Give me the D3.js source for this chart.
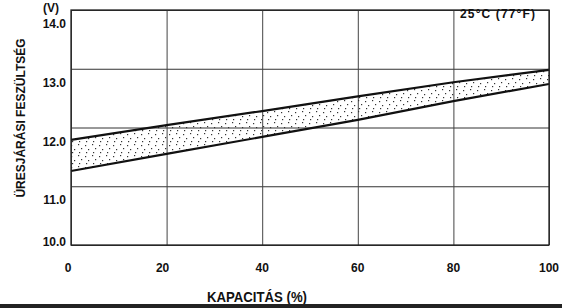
<!DOCTYPE html>
<html>
<head>
<meta charset="utf-8">
<script src="https://d3js.org/d3.v7.min.js"></script>
<style>
  body { margin: 0; background: #fff; }
  text { font-family: "Liberation Sans", Arial, sans-serif; font-weight: bold; fill: #111; }
</style>
</head>
<body>
<script>
// values
var capacity = [0, 20, 40, 60, 80, 100];
var upperVoltage = [11.79, 12.04, 12.28, 12.53, 12.77, 12.98];
var lowerVoltage = [11.26, 11.55, 11.84, 12.13, 12.45, 12.74];
var xTicks = [0, 20, 40, 60, 80, 100];
var yTicks = [10, 11, 12, 13, 14];

var W = 562, H = 308;
var m = { left: 71, right: 13, top: 10, bottom: 63 };

var svg = d3.select('body').append('svg')
  .attr('width', W)
  .attr('height', H);

var x = d3.scaleLinear().domain([0, 100]).range([m.left, W - m.right]);
var y = d3.scaleLinear().domain([10, 14]).range([H - m.bottom, m.top]);

// stipple pattern for the band
var pat = svg.append('defs').append('pattern')
  .attr('id', 'dots')
  .attr('patternUnits', 'userSpaceOnUse')
  .attr('width', 14).attr('height', 11);
[[1, 2], [8, 1], [4, 6], [11, 5], [2, 9], [9, 9]].forEach(function(p) {
  pat.append('rect').attr('x', p[0]).attr('y', p[1]).attr('width', 1.2).attr('height', 1.2).attr('fill', '#333');
});

// grid
svg.append('g')
  .attr('transform', 'translate(' + m.left + ',0)')
  .call(d3.axisLeft(y).tickValues(yTicks).tickSize(-(W - m.left - m.right)).tickFormat(''))
  .call(function(g) {
    g.select('.domain').remove();
    g.selectAll('line').attr('stroke', '#333').attr('stroke-width', 1);
  });

svg.append('g')
  .attr('transform', 'translate(0,' + m.top + ')')
  .call(d3.axisBottom(x).tickValues(xTicks).tickSize(H - m.top - m.bottom).tickFormat(''))
  .call(function(g) {
    g.select('.domain').remove();
    g.selectAll('line').attr('stroke', '#444').attr('stroke-width', 1);
  });

// band between the two lines
var band = capacity.map(function(c, i) { return { c: c, lo: lowerVoltage[i], hi: upperVoltage[i] }; });

svg.append('path')
  .datum(band)
  .attr('fill', 'url(#dots)')
  .attr('d', d3.area()
    .x(function(d) { return x(d.c); })
    .y0(function(d) { return y(d.lo); })
    .y1(function(d) { return y(d.hi); }));

[upperVoltage, lowerVoltage].forEach(function(vals) {
  svg.append('path')
    .datum(vals)
    .attr('fill', 'none')
    .attr('stroke', '#111')
    .attr('stroke-width', 2.2)
    .attr('d', d3.line()
      .x(function(d, i) { return x(capacity[i]); })
      .y(function(d) { return y(d); }));
});

// frame
svg.append('rect')
  .attr('x', x(0)).attr('y', y(14))
  .attr('width', x(100) - x(0)).attr('height', y(10) - y(14))
  .attr('fill', 'none').attr('stroke', '#222').attr('stroke-width', 1.3);

// y tick labels sit below their gridline, the bottom one at the corner
svg.selectAll('.ylab').data(yTicks).enter().append('text')
  .attr('class', 'ylab')
  .attr('x', 66)
  .attr('y', function(d) { return d === 10 ? y(d) + 1 : y(d) + 18; })
  .attr('text-anchor', 'end')
  .attr('font-size', 12)
  .text(function(d) { return d.toFixed(1); });

svg.selectAll('.xlab').data(xTicks).enter().append('text')
  .attr('class', 'xlab')
  .attr('x', function(d) { return d === 0 ? x(d) - 3 : (d === 20 ? x(d) - 4 : x(d)); })
  .attr('y', 272)
  .attr('text-anchor', 'middle')
  .attr('font-size', 12)
  .text(function(d) { return d; });

svg.append('text')
  .attr('x', 43).attr('y', 12)
  .attr('font-size', 12)
  .text('(V)');

svg.append('text')
  .attr('x', 460).attr('y', 18)
  .attr('font-size', 12)
  .attr('textLength', 75).attr('lengthAdjust', 'spacing')
  .text('25°C (77°F)');

svg.append('text')
  .attr('transform', 'translate(25,118) rotate(-90)')
  .attr('text-anchor', 'middle')
  .attr('font-size', 12)
  .text('ÜRESJÁRÁSI FESZÜLTSÉG');

svg.append('text')
  .attr('x', 207).attr('y', 302)
  .attr('font-size', 14)
  .attr('textLength', 100).attr('lengthAdjust', 'spacingAndGlyphs')
  .text('KAPACITÁS (%)');

// dark rule along the bottom edge
svg.append('rect')
  .attr('x', 0).attr('y', 304).attr('width', W).attr('height', 4)
  .attr('fill', '#222');
</script>
</body>
</html>
